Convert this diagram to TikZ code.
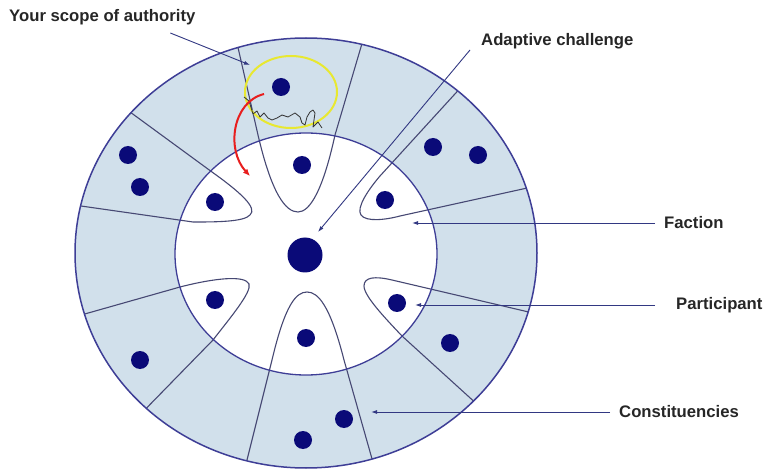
\documentclass[tikz,border=0pt]{standalone}
\usepackage{fontspec}
\setmainfont{Liberation Sans}
\usetikzlibrary{arrows.meta}

\definecolor{rim}{RGB}{62,62,150}
\definecolor{navy}{RGB}{10,10,120}
\definecolor{seam}{RGB}{70,72,115}
\definecolor{leader}{RGB}{50,56,130}
\definecolor{marker}{RGB}{232,232,48}
\definecolor{movered}{RGB}{232,30,30}
\pgfdeclareradialshading{bandshade}{\pgfpoint{0bp}{0bp}}{%
  rgb(0bp)=(0.82,0.88,0.92); rgb(27bp)=(0.82,0.88,0.92); rgb(40bp)=(0.78,0.85,0.90); rgb(50bp)=(0.66,0.75,0.83)}

\tikzset{
  member/.style={circle, fill=navy, inner sep=0pt, minimum size=18pt},
  core/.style={circle, fill=navy, inner sep=0pt, minimum size=35pt},
  caption/.style={font=\fontsize{16.7}{20}\selectfont\bfseries, text=black!85, inner sep=0pt, anchor=west},
  pointer/.style={draw=leader, line width=0.9pt, -{Latex[length=6pt,width=4pt]}},
  seamline/.style={draw=seam, line width=1.1pt},
}

\begin{document}
\begin{tikzpicture}[x=1pt, y=-1pt]
    \useasboundingbox (0,0) rectangle (769,473);

    % Ringe.
    \shade[shading=bandshade] (306,253) ellipse (231 and 215);
    \fill[white] (306,254) ellipse (131 and 121);

    % Fraktionen.
    \begin{scope}
        \clip (306,253) ellipse (231 and 215);
        \draw[seamline] (234,30) -- (258,135) .. controls (272,195) and (286,212) .. (298,212)
            .. controls (310,212) and (323,190) .. (335,135) -- (366,30);
        \draw[seamline] (115,101) -- (212,172) .. controls (240,192) and (258,208) .. (250,215)
            .. controls (244,222) and (215,222) .. (193,222) -- (60,203);
        \draw[seamline] (60,321) -- (180,287) .. controls (215,278) and (245,275) .. (249,284)
            .. controls (252,292) and (230,318) .. (213,340) -- (130,425);
        \draw[seamline] (242,480) -- (272,360) .. controls (285,305) and (296,292) .. (307,292)
            .. controls (318,292) and (330,305) .. (344,360) -- (378,480);
        \draw[seamline] (550,317) -- (392,280) .. controls (375,276) and (364,277) .. (364,286)
            .. controls (364,296) and (385,318) .. (402,336) -- (490,416);
        \draw[seamline] (475,72) -- (380,176) .. controls (368,190) and (356,208) .. (361,215)
            .. controls (366,222) and (385,220) .. (400,216) -- (550,183);
    \end{scope}
    \draw[rim, line width=1.3pt] (306,254) ellipse (131 and 121);
    \draw[rim, line width=1.5pt] (306,253) ellipse (231 and 215);

    % Eigener Bereich.
    \draw[marker, line width=2pt] (291,92) ellipse (46 and 36);
    \draw[black!80, line width=0.8pt, line join=round] (244,97) -- (249,101) -- (253,114) -- (257,111)
        -- (260,117) -- (264,113) -- (268,118) -- (272,120) -- (277,118) -- (282,115) -- (288,117)
        -- (295,113) -- (300,117) -- (302,123) -- (305,125) -- (307,117) -- (310,112) -- (313,110)
        -- (315,113) -- (313,127) -- (318,122) -- (322,128);
    \draw[movered, line width=2pt, -{Latex[length=7pt,width=6pt]}] (264,94) .. controls (232,102) and (226,150) .. (250,176);

    % Teilnehmer.
    \foreach \x/\y [count=\i] in {281/87, 302/165, 215/202, 385/200, 215/300, 397/303, 306/338,
        128/155, 140/187, 433/147, 478/155, 140/360, 450/343, 344/419, 303/440}
    {
        \node[member] (member\i) at (\x,\y) {};
    }
    \node[core] (challenge) at (305,255) {};

    % Beschriftung.
    \node[caption] (scope) at (9,17) {Your scope of authority};
    \node[caption] (adaptive) at (481,41) {Adaptive challenge};
    \node[caption] (faction) at (664,223) {Faction};
    \node[caption] (participant) at (676,305) {Participant};
    \node[caption] (constituencies) at (619,412) {Constituencies};

    \coordinate (scope-tip) at (250,65);
    \coordinate (adaptive-tip) at (318,232);
    \coordinate (faction-tip) at (412,223);
    \coordinate (participant-tip) at (415,305);
    \coordinate (constituencies-tip) at (371,412);

    \draw[pointer] ([xshift=68pt, yshift=-8pt]scope.south) -- (scope-tip);
    \draw[pointer] ([xshift=-11pt, yshift=-9pt]adaptive.west) -- (adaptive-tip);
    \draw[pointer] ([xshift=-9pt]faction.west) -- (faction-tip);
    \draw[pointer] ([xshift=-21pt]participant.west) -- (participant-tip);
    \draw[pointer] ([xshift=-9pt]constituencies.west) -- (constituencies-tip);
\end{tikzpicture}
\end{document}
